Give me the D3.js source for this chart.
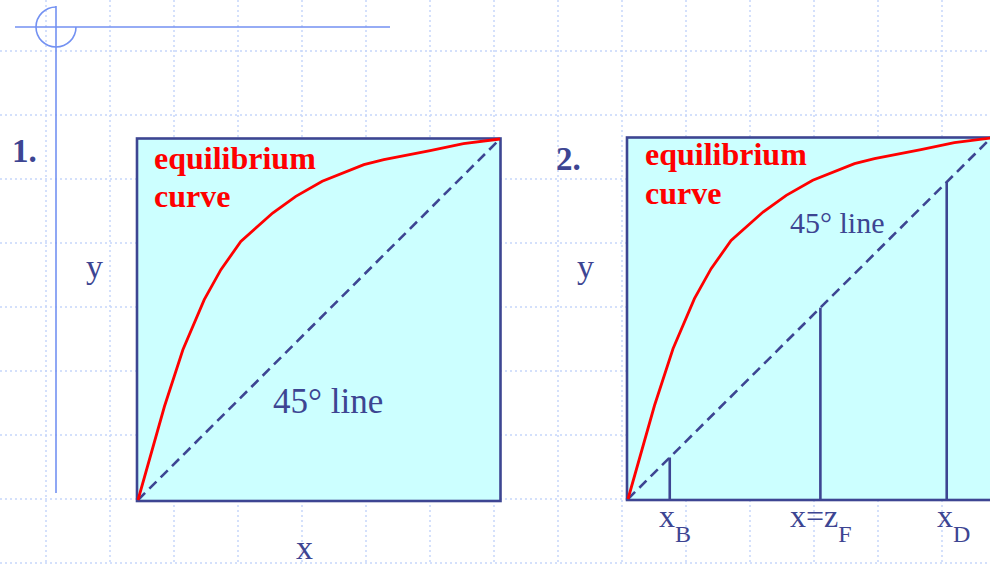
<!DOCTYPE html>
<html>
<head>
<meta charset="utf-8">
<script src="https://cdn.jsdelivr.net/npm/d3@7"></script>
<style>
  html, body { margin: 0; padding: 0; background: #fff; }
  svg { display: block; }
</style>
</head>
<body>
<div id="chart"></div>
<script>
// equilibrium curve (same curve in both panels)
const eqX = [0, 0.073, 0.124, 0.183, 0.229, 0.284, 0.372, 0.436, 0.509, 0.624, 0.679, 0.807, 0.899, 1];
const eqY = [0, 0.259, 0.416, 0.555, 0.638, 0.716, 0.795, 0.841, 0.883, 0.929, 0.943, 0.968, 0.987, 1];
// 45 degree line
const diagX = [0, 1];
// vertical lines in panel 2: xB, zF, xD
const streamX = [0.115, 0.53, 0.878];
const streamMain = ['x', 'x=z', 'x'];
const streamSub = ['B', 'F', 'D'];
const panelNames = ['1.', '2.'];

const W = 990, H = 565;
const navy = '#3d4592', red = '#ff0000', cyan = '#ccffff';
const gridCol = '#c6d6fa', decoCol = '#7391f2';
const serif = '"Liberation Serif", Tinos, "Times New Roman", Times, "DejaVu Serif", serif';

const svg = d3.select('#chart').append('svg')
  .attr('width', W).attr('height', H);

// ===== background dotted grid =====
const gx = d3.range(46, W, 64);
const gy = d3.range(51, H, 64);
svg.append('g').selectAll('line.v').data(gx).enter().append('line')
  .attr('x1', d => d).attr('x2', d => d).attr('y1', 0).attr('y2', H)
  .attr('stroke', gridCol).attr('stroke-width', 1.5).attr('stroke-dasharray', '2,3');
svg.append('g').selectAll('line.h').data(gy).enter().append('line')
  .attr('x1', 0).attr('x2', W).attr('y1', d => d).attr('y2', d => d)
  .attr('stroke', gridCol).attr('stroke-width', 1.5).attr('stroke-dasharray', '2,3');

// ===== corner decoration =====
const deco = svg.append('g').attr('stroke', decoCol).attr('stroke-width', 1.6).attr('fill', 'none');
deco.append('line').attr('x1', 15).attr('x2', 390).attr('y1', 27).attr('y2', 27);
deco.append('line').attr('x1', 56).attr('x2', 56).attr('y1', 6).attr('y2', 493);
const p = d3.path();
p.moveTo(56, 7);
p.arc(56, 27, 20, -Math.PI / 2, 0, true);
deco.append('path').attr('d', p.toString());

// ===== panels =====
const panels = [
  { x0: 138, x1: 500, y0: 500, y1: 139 },
  { x0: 628, x1: 991, y0: 499, y1: 138 }
];

panels.forEach((pn, i) => {
  const x = d3.scaleLinear().domain([0, 1]).range([pn.x0, pn.x1]);
  const y = d3.scaleLinear().domain([0, 1]).range([pn.y0, pn.y1]);
  const g = svg.append('g');

  g.append('rect')
    .attr('x', x(0) - 1).attr('y', y(1) - 0.5)
    .attr('width', x(1) - x(0) + 1.5).attr('height', y(0) - y(1) + 1.5)
    .attr('fill', cyan).attr('stroke', navy).attr('stroke-width', 2.6);

  // 45 degree line
  g.append('path')
    .datum(diagX)
    .attr('d', d3.line().x(d => x(d)).y(d => y(d)))
    .attr('fill', 'none').attr('stroke', navy).attr('stroke-width', 2.6)
    .attr('stroke-dasharray', '10,6');

  // equilibrium curve
  g.append('path')
    .datum(eqX.map((v, k) => [v, eqY[k]]))
    .attr('d', d3.line().x(d => x(d[0])).y(d => y(d[1])))
    .attr('fill', 'none').attr('stroke', red).attr('stroke-width', 2.8);

  if (i === 1) {
    g.selectAll('line.stream').data(streamX).enter().append('line')
      .attr('x1', d => x(d)).attr('x2', d => x(d))
      .attr('y1', y(0)).attr('y2', d => y(d))
      .attr('stroke', navy).attr('stroke-width', 2.6);
  }
});

// ===== texts =====
function txt(str, tx, ty, size, opts) {
  opts = opts || {};
  return svg.append('text')
    .attr('x', tx).attr('y', ty)
    .attr('font-family', serif)
    .attr('font-size', size + 'px')
    .attr('font-weight', opts.bold ? 'bold' : 'normal')
    .attr('fill', opts.color || navy)
    .text(str);
}

// panel 1
txt(panelNames[0], 12, 162, 33, { bold: true });
txt('equilibrium', 154, 169, 32, { bold: true, color: red });
txt('curve', 154, 207, 32, { bold: true, color: red });
txt('y', 86, 278, 34);
txt('45\u00b0 line', 273, 413, 35);
txt('x', 296, 559, 34);

// panel 2
txt(panelNames[1], 556, 170, 33, { bold: true });
txt('equilibrium', 645, 165, 32, { bold: true, color: red });
txt('curve', 645, 204, 32, { bold: true, color: red });
txt('y', 577, 278, 34);
txt('45\u00b0 line', 790, 233, 30);

const labelX = [659, 790, 937];
streamX.forEach((v, k) => {
  const t = svg.append('text')
    .attr('x', labelX[k]).attr('y', 527)
    .attr('font-family', serif)
    .attr('font-size', '32px').attr('fill', navy);
  t.append('tspan').text(streamMain[k]);
  t.append('tspan').attr('dy', 15).attr('font-size', '24px').text(streamSub[k]);
});
</script>
</body>
</html>
